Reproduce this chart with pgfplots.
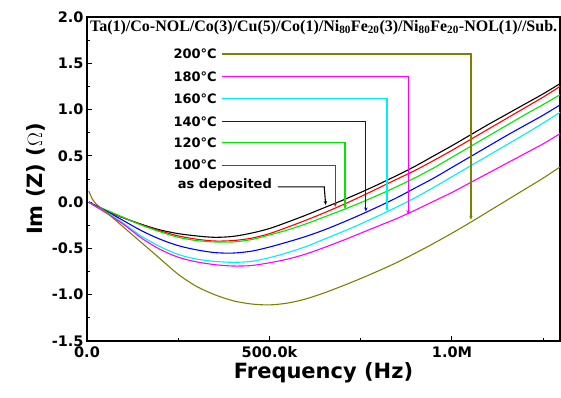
\documentclass[border=0pt]{standalone}
\usepackage{fontspec}
\setmainfont{DejaVu Sans}
\newfontfamily\titlefont{Liberation Serif}
\usepackage{pgfplots}
\pgfplotsset{compat=1.18}
\usetikzlibrary{arrows.meta}
\definecolor{olivec}{RGB}{128,128,0}
\definecolor{greenc}{RGB}{0,230,0}
\definecolor{cyanc}{RGB}{0,240,240}
\definecolor{magc}{RGB}{255,0,255}
\begin{document}
\begin{tikzpicture}[
  lab/.style={anchor=east, inner sep=0pt, font=\bfseries\fontsize{13}{13}\selectfont},
  arr/.style={line width=1.1pt, -{Stealth[length=4pt,width=3.5pt]}}]
\useasboundingbox (-87pt,-56pt) rectangle (474pt,341pt);
\begin{axis}[
  scale only axis, width=473pt, height=324pt, anchor=south west, at={(0,0)},
  xmin=0, xmax=1296000, ymin=-1.5, ymax=2.0,
  xtick={0,500000,1000000}, xticklabels={0.0,500.0k,1.0M},
  minor xtick={250000,750000,1250000},
  ytick={-1.5,-1,-0.5,0,0.5,1,1.5,2},
  yticklabels={-1.5,-1.0,-0.5,0.0,0.5,1.0,1.5,2.0},
  minor ytick={-1.25,-0.75,-0.25,0.25,0.75,1.25,1.75},
  scaled x ticks=false,
  tick pos=left, tick align=inside,
  major tick length=5pt, minor tick length=3pt,
  axis line style={line width=1.3pt},
  every tick/.style={line width=1pt, black},
  /pgf/number format/assume math mode=true,
  ticklabel style={font=\bfseries\fontsize{14.5}{15}\selectfont},
  xticklabel style={yshift=-2pt},
  xlabel={Frequency (Hz)}, ylabel={Im (Z) ($\Omega$)},
  label style={font=\bfseries\fontsize{21}{22}\selectfont},
  xlabel style={yshift=2pt},
  every axis plot/.append style={line width=1.1pt, smooth},
  clip=false,
]
\addplot[black] coordinates {(5000,0.0) (25000,-0.04) (50000,-0.09) (100000,-0.17) (150000,-0.24) (200000,-0.30) (250000,-0.34) (300000,-0.365) (350000,-0.38) (400000,-0.37) (450000,-0.335) (500000,-0.285) (550000,-0.215) (600000,-0.14) (650000,-0.06) (700000,0.02) (750000,0.105) (800000,0.195) (850000,0.29) (900000,0.39) (950000,0.50) (1000000,0.61) (1050000,0.725) (1100000,0.84) (1150000,0.95) (1200000,1.06) (1250000,1.17) (1296000,1.28)};
\addplot[red] coordinates {(5000,0.0) (25000,-0.04) (50000,-0.09) (100000,-0.17) (150000,-0.245) (200000,-0.31) (250000,-0.365) (300000,-0.40) (350000,-0.42) (400000,-0.415) (450000,-0.39) (500000,-0.34) (550000,-0.27) (600000,-0.195) (650000,-0.115) (700000,-0.03) (750000,0.06) (800000,0.155) (850000,0.25) (900000,0.345) (950000,0.45) (1000000,0.56) (1050000,0.675) (1100000,0.79) (1150000,0.905) (1200000,1.02) (1250000,1.135) (1296000,1.25)};
\addplot[greenc] coordinates {(5000,0.0) (25000,-0.04) (50000,-0.08) (100000,-0.165) (150000,-0.25) (200000,-0.32) (250000,-0.38) (300000,-0.415) (350000,-0.43) (400000,-0.43) (450000,-0.405) (500000,-0.355) (550000,-0.30) (600000,-0.235) (650000,-0.16) (700000,-0.085) (750000,-0.005) (800000,0.08) (850000,0.17) (900000,0.265) (950000,0.37) (1000000,0.485) (1050000,0.60) (1100000,0.715) (1150000,0.83) (1200000,0.945) (1250000,1.055) (1296000,1.16)};
\addplot[blue] coordinates {(5000,0.0) (25000,-0.04) (50000,-0.09) (100000,-0.20) (150000,-0.31) (200000,-0.40) (250000,-0.47) (300000,-0.515) (350000,-0.545) (400000,-0.55) (450000,-0.53) (500000,-0.485) (550000,-0.43) (600000,-0.37) (650000,-0.30) (700000,-0.22) (750000,-0.135) (800000,-0.045) (850000,0.05) (900000,0.155) (950000,0.26) (1000000,0.375) (1050000,0.49) (1100000,0.605) (1150000,0.72) (1200000,0.83) (1250000,0.94) (1296000,1.05)};
\addplot[cyanc] coordinates {(5000,0.0) (25000,-0.05) (50000,-0.10) (100000,-0.23) (150000,-0.37) (200000,-0.48) (250000,-0.565) (300000,-0.615) (350000,-0.64) (400000,-0.65) (450000,-0.64) (500000,-0.60) (550000,-0.545) (600000,-0.48) (650000,-0.40) (700000,-0.32) (750000,-0.235) (800000,-0.145) (850000,-0.05) (900000,0.05) (950000,0.16) (1000000,0.275) (1050000,0.39) (1100000,0.505) (1150000,0.62) (1200000,0.735) (1250000,0.855) (1296000,0.97)};
\addplot[magc] coordinates {(5000,0.0) (25000,-0.05) (50000,-0.11) (100000,-0.24) (150000,-0.39) (200000,-0.51) (250000,-0.595) (300000,-0.645) (350000,-0.675) (400000,-0.69) (450000,-0.685) (500000,-0.655) (550000,-0.615) (600000,-0.56) (650000,-0.49) (700000,-0.415) (750000,-0.335) (800000,-0.255) (850000,-0.175) (900000,-0.085) (950000,0.01) (1000000,0.105) (1050000,0.21) (1100000,0.315) (1150000,0.42) (1200000,0.525) (1250000,0.63) (1296000,0.74)};
\addplot[olivec] coordinates {(5000,0.12) (15000,0.03) (25000,-0.02) (50000,-0.10) (100000,-0.27) (150000,-0.44) (200000,-0.61) (250000,-0.78) (300000,-0.91) (350000,-1.00) (400000,-1.065) (450000,-1.10) (500000,-1.11) (550000,-1.09) (600000,-1.045) (650000,-0.98) (700000,-0.905) (750000,-0.825) (800000,-0.74) (850000,-0.65) (900000,-0.55) (950000,-0.445) (1000000,-0.335) (1050000,-0.22) (1100000,-0.10) (1150000,0.02) (1200000,0.14) (1250000,0.26) (1296000,0.38)};
% annotations
\node[lab] at (axis cs:356000,1.60) {200°C};
\node[lab] at (axis cs:356000,1.355) {180°C};
\node[lab] at (axis cs:356000,1.118) {160°C};
\node[lab] at (axis cs:356000,0.87) {140°C};
\node[lab] at (axis cs:356000,0.645) {120°C};
\node[lab] at (axis cs:356000,0.40) {100°C};
\node[lab] at (axis cs:507000,0.185) {as deposited};
\draw[arr, olivec] (axis cs:370000,1.60) -- (axis cs:1052000,1.60) -- (axis cs:1052000,-0.19);
\draw[arr, magc] (axis cs:370000,1.355) -- (axis cs:880000,1.355) -- (axis cs:880000,-0.13);
\draw[arr, cyanc] (axis cs:370000,1.118) -- (axis cs:822000,1.118) -- (axis cs:822000,-0.10);
\draw[arr, blue] (axis cs:370000,0.87) -- (axis cs:764000,0.87) -- (axis cs:764000,-0.10);
\draw[arr, greenc] (axis cs:370000,0.645) -- (axis cs:707000,0.645) -- (axis cs:707000,-0.075);
\draw[arr, red] (axis cs:370000,0.40) -- (axis cs:680000,0.40) -- (axis cs:680000,-0.05);
\draw[arr, black] (axis cs:523000,0.165) -- (axis cs:650000,0.165) -- (axis cs:654000,-0.03);
\node[anchor=west, inner sep=0pt, font=\titlefont\bfseries\fontsize{16}{16}\selectfont] at (axis cs:8000,1.89)
 {Ta(1)/Co-NOL/Co(3)/Cu(5)/Co(1)/Ni\textsubscript{80}Fe\textsubscript{20}(3)/Ni\textsubscript{80}Fe\textsubscript{20}-NOL(1)//Sub.};
\end{axis}
\end{tikzpicture}
\end{document}
